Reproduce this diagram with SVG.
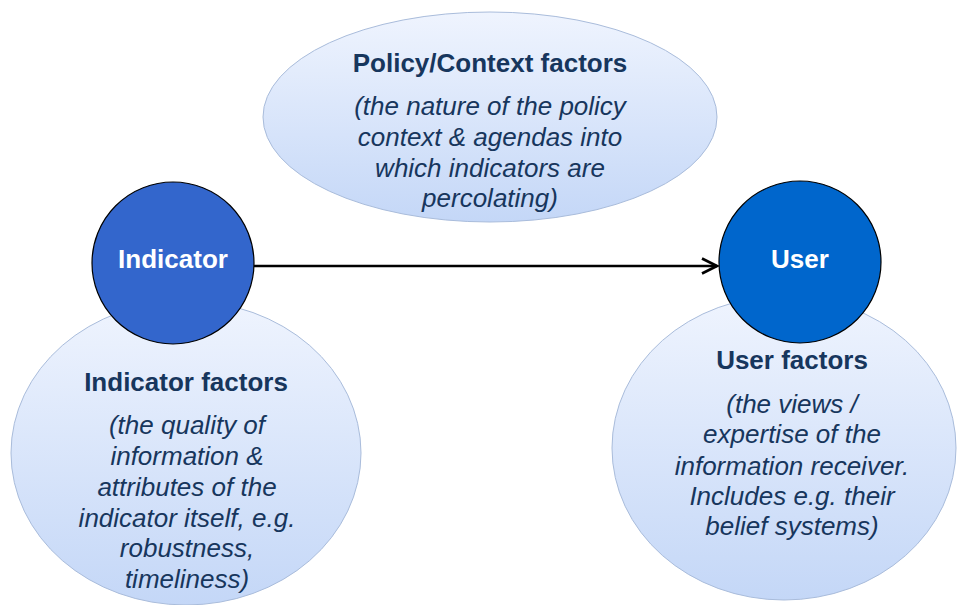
<svg xmlns="http://www.w3.org/2000/svg" width="957" height="605" viewBox="0 0 957 605">
  <defs>
    <linearGradient id="factorFill" x1="0" y1="0" x2="0" y2="1">
      <stop offset="0" stop-color="#EFF4FE"/>
      <stop offset="1" stop-color="#C4D7F7"/>
    </linearGradient>
    <marker id="arrowOpen" viewBox="0 0 12 12" refX="11" refY="6" markerWidth="8" markerHeight="8" markerUnits="strokeWidth" orient="auto">
      <path d="M2,1.5 L11,6 L2,10.5" fill="none" stroke="#000" stroke-width="1.6"/>
    </marker>
  </defs>
  <style>
    .factor { fill: url(#factorFill); stroke: #A9BCDB; stroke-width: 1; }
    .actor { stroke: #000; stroke-width: 1.2; }
    .head { font-family: "Liberation Sans", Arial, sans-serif; font-weight: bold; font-size: 26px; fill: #17365D; text-anchor: middle; }
    .desc { font-family: "Liberation Sans", Arial, sans-serif; font-style: italic; font-size: 26px; fill: #17365D; text-anchor: middle; }
    .actor-label { font-family: "Liberation Sans", Arial, sans-serif; font-weight: bold; font-size: 26px; fill: #FFFFFF; text-anchor: middle; }
    .link { stroke: #000; stroke-width: 2.5; fill: none; }
  </style>
  <rect width="957" height="605" fill="#FFFFFF"/>

  <g id="policy-factors">
    <ellipse class="factor" cx="490" cy="117" rx="227" ry="105"/>
    <text class="head" x="490" y="72">Policy/Context factors</text>
    <text class="desc" x="490" y="115">(the nature of the policy</text>
    <text class="desc" x="490" y="146">context &amp; agendas into</text>
    <text class="desc" x="490" y="177">which indicators are</text>
    <text class="desc" x="490" y="207">percolating)</text>
  </g>

  <g id="indicator-factors">
    <ellipse class="factor" cx="186" cy="453" rx="175" ry="152"/>
    <text class="head" x="186" y="391">Indicator factors</text>
    <text class="desc" x="187" y="434">(the quality of</text>
    <text class="desc" x="187" y="465">information &amp;</text>
    <text class="desc" x="187" y="496">attributes of the</text>
    <text class="desc" x="187" y="527">indicator itself, e.g.</text>
    <text class="desc" x="187" y="557">robustness,</text>
    <text class="desc" x="187" y="588">timeliness)</text>
  </g>

  <g id="user-factors">
    <ellipse class="factor" cx="784" cy="448" rx="172" ry="152"/>
    <text class="head" x="792" y="369">User factors</text>
    <text class="desc" x="792" y="413">(the views /</text>
    <text class="desc" x="792" y="443">expertise of the</text>
    <text class="desc" x="792" y="475">information receiver.</text>
    <text class="desc" x="792" y="505">Includes e.g. their</text>
    <text class="desc" x="792" y="535">belief systems)</text>
  </g>

  <g id="indicator">
    <circle class="actor" cx="173" cy="263" r="81" fill="#3366CC"/>
    <text class="actor-label" x="173" y="268">Indicator</text>
  </g>

  <g id="user">
    <circle class="actor" cx="800" cy="262" r="81" fill="#0066CC"/>
    <text class="actor-label" x="800" y="268">User</text>
  </g>

  <g id="connectors">
    <line class="link" x1="254" y1="266" x2="717" y2="266" marker-end="url(#arrowOpen)"/>
  </g>
</svg>
